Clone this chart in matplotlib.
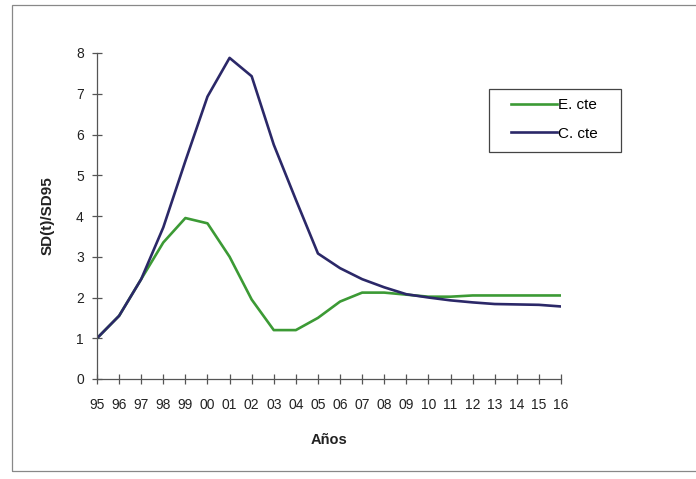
import matplotlib
matplotlib.use("Agg")
from matplotlib import pyplot as plt
from matplotlib.patches import Rectangle

plt.rcParams['font.family'] = ['Liberation Sans', 'DejaVu Sans']

years = ['95', '96', '97', '98', '99', '00', '01', '02', '03', '04', '05',
         '06', '07', '08', '09', '10', '11', '12', '13', '14', '15', '16']
e_cte = [1.0, 1.55, 2.45, 3.35, 3.95, 3.82, 3.0, 1.95, 1.2, 1.2, 1.5,
         1.9, 2.12, 2.12, 2.07, 2.02, 2.02, 2.05, 2.05, 2.05, 2.05, 2.05]
c_cte = [1.0, 1.55, 2.45, 3.72, 5.35, 6.93, 7.88, 7.43, 5.75, 4.4, 3.08,
         2.72, 2.45, 2.25, 2.08, 2.0, 1.93, 1.88, 1.84, 1.83, 1.82, 1.78]

W, H = 696, 479
fig = plt.figure(figsize=(6.96, 4.79), dpi=100)
ax = fig.add_axes([97/W, 1-379/H, (561-97)/W, (379-53)/H])

x = list(range(len(years)))
ax.plot(x, e_cte, color='#3c9a35', linewidth=1.9, label='E. cte')
ax.plot(x, c_cte, color='#2b2868', linewidth=1.9, label='C. cte')

ax.set_xlim(0, len(years) - 1)
ax.set_ylim(0, 8)
ax.set_xticks(x)
ax.set_xticklabels(years)
ax.set_yticks(range(9))
for s in ['top', 'right']:
    ax.spines[s].set_visible(False)
for s in ['left', 'bottom']:
    ax.spines[s].set_color('#555555')
    ax.spines[s].set_linewidth(0.9)
ax.tick_params(direction='inout', length=7, width=0.9, colors='#555555',
               labelcolor='#222222', labelsize=10)
ax.tick_params(axis='x', pad=10)
ax.tick_params(axis='y', pad=6)
ax.set_xlabel('Años', fontsize=10.5, fontweight='bold', color='#222222', labelpad=15)
ax.set_ylabel('SD(t)/SD95', fontsize=11, fontweight='bold', color='#222222', labelpad=15)

# legend without frame, box drawn separately
leg = fig.legend(loc='upper left', bbox_to_anchor=(511/W, 1-98/H),
                 frameon=False, fontsize=11, handlelength=3.0,
                 handletextpad=0.1, borderpad=0, labelspacing=0.95, borderaxespad=0)
fig.patches.append(Rectangle((489/W, 1-152/H), 132/W, 63/H, transform=fig.transFigure,
                             fill=False, edgecolor='#444444', linewidth=0.9))

# outer frame of the chart
fig.patches.append(Rectangle((12/W, 8/H), 0.99, 466/H, transform=fig.transFigure,
                             fill=False, edgecolor='#888888', linewidth=0.9))

fig.savefig('out.png', dpi=100)
